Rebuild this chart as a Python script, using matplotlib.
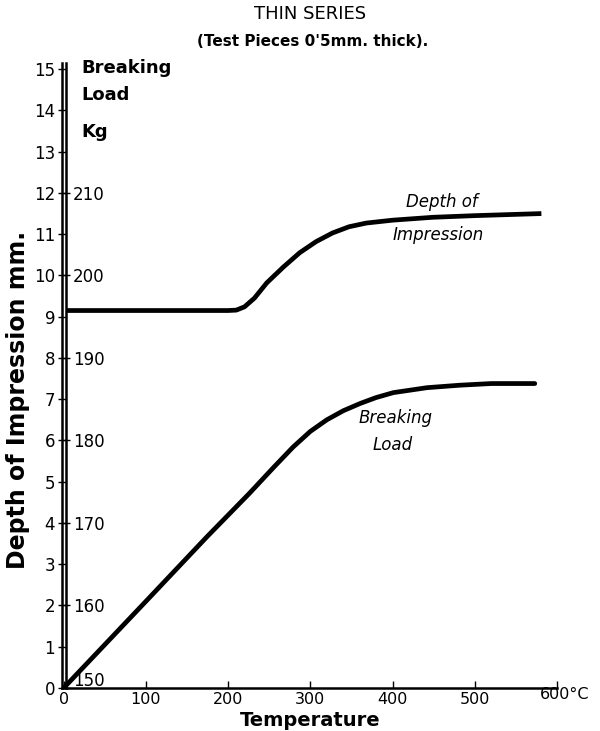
import matplotlib
matplotlib.use("Agg")
import matplotlib.pyplot as plt
import matplotlib.transforms as mtransforms

# ---- data ----
depth_temp = [4, 50, 100, 150, 200, 210, 220, 232, 247, 267, 287, 307, 327, 347, 368, 400, 449, 500, 581]
depth_mm = [9.15, 9.15, 9.15, 9.15, 9.15, 9.16, 9.24, 9.45, 9.82, 10.2, 10.55, 10.82, 11.03, 11.18, 11.27, 11.34, 11.41, 11.45, 11.5]

load_temp = [0, 100, 174, 226, 255, 279, 300, 320, 340, 361, 380, 401, 442, 482, 520, 573]
load_kg = [150, 160.5, 168.3, 173.6, 176.7, 179.2, 181.1, 182.5, 183.6, 184.5, 185.2, 185.8, 186.4, 186.7, 186.9, 186.9]

x_ticks = [0, 100, 200, 300, 400, 500, 600]
x_tick_labels = ["0", "100", "200", "300", "400", "500", "600°C"]
depth_ticks = list(range(0, 16))
load_ticks = [150, 160, 170, 180, 190, 200, 210]

plt.rcParams['font.family'] = ['DejaVu Sans']

fig = plt.figure(figsize=(6.0, 7.31), dpi=100)
ax = fig.add_axes([62/600, 1 - 688/731, 495/600, 625/731])
ax.set_xlim(-2, 600)
ax.set_ylim(0, 15.15)

for s in ['top', 'right']:
    ax.spines[s].set_visible(False)
ax.spines['left'].set_linewidth(1.8)
ax.spines['bottom'].set_linewidth(1.8)

ax.plot(depth_temp, depth_mm, color='black', lw=3.4, solid_capstyle='butt')

ax.set_yticks(depth_ticks)
ax.set_yticklabels([str(v) for v in depth_ticks])
ax.tick_params(axis='y', direction='inout', length=6, width=1, labelsize=12, pad=2)
ax.set_xticks(x_ticks)
ax.set_xticklabels(x_tick_labels)
ax.tick_params(axis='x', direction='in', length=5, width=1, labelsize=11.5, pad=3)
lbl = ax.get_xticklabels()[-1]
lbl.set_ha('left')
lbl.set_transform(lbl.get_transform() + mtransforms.ScaledTranslation(-17/100, 5/100, fig.dpi_scale_trans))

# secondary (breaking load) axis
ax2 = ax.twinx()
ax2.set_ylim(150, 150 + 5 * 15.15)
for s in ['top', 'left', 'bottom']:
    ax2.spines[s].set_visible(False)
ax2.spines['right'].set_position(('axes', 4/495))
ax2.spines['right'].set_linewidth(1.8)
ax2.set_yticks(load_ticks)
ax2.set_yticklabels([str(v) for v in load_ticks])
ax2.tick_params(axis='y', direction='inout', length=6, width=1, labelsize=12, pad=2)
first = ax2.get_yticklabels()[0]
first.set_transform(first.get_transform() + mtransforms.ScaledTranslation(0, 9/100, fig.dpi_scale_trans))

ax2.plot(load_temp, load_kg, color='black', lw=3.4, solid_capstyle='round')

# labels
ax.text(22, 15.03, "Breaking", fontsize=13, fontweight='bold', ha='left', va='center')
ax.text(22, 14.38, "Load", fontsize=13, fontweight='bold', ha='left', va='center')
ax.text(22, 13.48, "Kg", fontsize=13, fontweight='bold', ha='left', va='center')

ax.text(460, 11.78, "Depth of", fontsize=12, style='italic', ha='center', va='center')
ax.text(455, 10.98, "Impression", fontsize=12, style='italic', ha='center', va='center')
ax.text(404, 6.55, "Breaking", fontsize=12, style='italic', ha='center', va='center')
ax.text(400, 5.89, "Load", fontsize=12, style='italic', ha='center', va='center')

fig.text(18/600, 1 - 400/731, "Depth of Impression mm.", rotation=90, fontsize=17,
         fontweight='bold', ha='center', va='center')
fig.text(310/600, 1 - 721/731, "Temperature", fontsize=14, fontweight='bold', ha='center', va='center')
fig.text(310/600, 1 - 14/731, "THIN SERIES", fontsize=13, ha='center', va='center')
fig.text(313/600, 1 - 41/731, "(Test Pieces 0'5mm. thick).", fontsize=11, fontweight='bold',
         ha='center', va='center')

fig.savefig("out.png", dpi=100)
